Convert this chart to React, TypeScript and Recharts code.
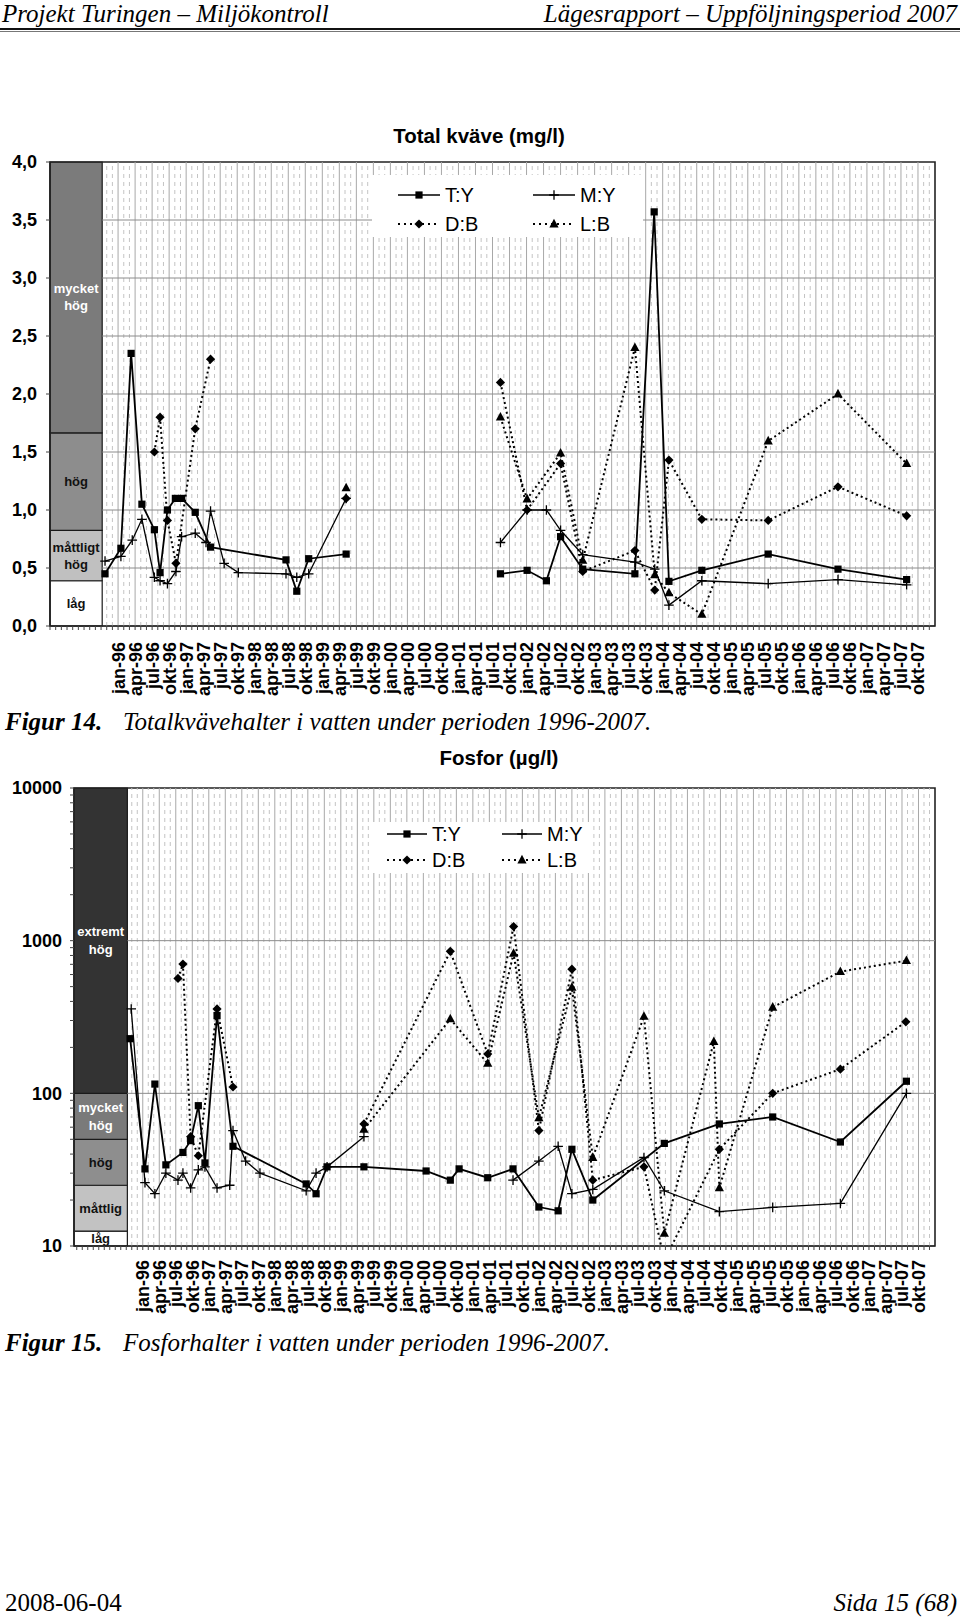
import React from 'react';
import { ComposedChart, Line, XAxis, YAxis, ReferenceArea, ReferenceLine, Legend } from 'recharts';

const SANS = '"Liberation Sans", Arial, sans-serif';
const SERIF = '"Liberation Serif", "Times New Roman", serif';

// x values are months counted from jan-96 (0 = jan-96, 141 = okt-07)
const MONTH_NAMES = ['jan', 'apr', 'jul', 'okt'];
const YEARS = ['96', '97', '98', '99', '00', '01', '02', '03', '04', '05', '06', '07'];
const X_LABELS = YEARS.flatMap((y) => MONTH_NAMES.map((mn) => `${mn}-${y}`));

// ---- Total kväve (mg/l) ----
const N_TY_M = [-2.3, 0.5, 2.3, 4.2, 6.4, 7.4, 8.7, 10.1, 11.2, 13.6, 16.3, 29.6, 31.5, 33.6, 40.2, 50, 67.4, 72.1, 75.5, 78.0, 81.9, 91.1, 94.5, 97.1, 102.9, 114.6, 126.9, 139.0];
const N_TY_V = [0.45, 0.67, 2.35, 1.05, 0.83, 0.46, 1.0, 1.1, 1.1, 0.98, 0.68, 0.57, 0.3, 0.58, 0.62, null, 0.45, 0.48, 0.39, 0.77, 0.49, 0.45, 3.57, 0.385, 0.48, 0.62, 0.49, 0.4];

const N_MY_M = [-2.3, 0.5, 2.5, 4.2, 6.4, 7.4, 8.7, 10.2, 11.2, 13.6, 15.5, 16.3, 18.7, 21.2, 29.6, 31.5, 33.6, 40.2, 50, 67.4, 72.1, 75.5, 78.0, 81.9, 91.1, 94.6, 97.1, 102.9, 114.6, 126.9, 139.0];
const N_MY_V = [0.56, 0.6, 0.74, 0.92, 0.42, 0.39, 0.365, 0.47, 0.77, 0.8, 0.72, 0.99, 0.54, 0.46, 0.45, 0.42, 0.45, 1.1, null, 0.72, 1.0, 1.0, 0.825, 0.615, 0.55, 0.49, 0.18, 0.39, 0.365, 0.4, 0.355];

const N_DB_M = [6.4, 7.4, 8.7, 10.2, 13.6, 16.3, 28, 40.2, 50, 67.4, 72.1, 78.0, 81.9, 91.1, 94.6, 97.1, 102.9, 114.6, 126.9, 139.0];
const N_DB_V = [1.5, 1.8, 0.91, 0.54, 1.7, 2.3, null, 1.1, null, 2.1, 1.0, 1.4, 0.47, 0.65, 0.31, 1.43, 0.92, 0.91, 1.2, 0.95];

const N_LB_M = [40.2, 50, 67.4, 72.1, 78.0, 81.9, 91.1, 94.6, 97.1, 102.9, 114.6, 126.9, 139.0];
const N_LB_V = [1.19, null, 1.8, 1.095, 1.49, 0.565, 2.4, 0.44, 0.285, 0.1, 1.595, 2.0, 1.4];

const N_Y_TICKS = [0, 0.5, 1, 1.5, 2, 2.5, 3, 3.5, 4];
const N_CLASS_LIMITS = [0, 0.39, 0.825, 1.665, 4];
const N_CLASS_NAMES = ['låg', 'måttligt hög', 'hög', 'mycket hög'];

// ---- Fosfor (µg/l) ----
const P_TY_M = [-2.3, 0.4, 2.2, 4.2, 7.3, 8.7, 10.1, 11.3, 13.5, 16.4, 29.7, 31.5, 33.5, 40.2, 51.5, 55.9, 57.5, 62.7, 67.3, 72.0, 75.5, 78.0, 81.8, 94.8, 104.8, 114.5, 126.8, 138.8];
const P_TY_V = [228, 32, 115, 34, 41, 49, 83, 35, 323, 45, 25.5, 22, 33, 33, 31, 27, 32, 28, 32, 18, 17, 43, 20, 47, 63, 70, 48, 120];

const P_MY_M = [-2.1, 0.4, 2.2, 4.2, 6.4, 7.3, 8.7, 10.1, 11.3, 13.5, 15.8, 16.4, 18.7, 21.3, 29.7, 31.5, 33.5, 40.2, 50, 67.3, 72.0, 75.5, 78.0, 81.8, 91.1, 94.8, 104.8, 114.5, 126.8, 138.8];
const P_MY_V = [357, 26, 22, 30, 27, 30, 24, 31.5, 33, 24, 25, 57, 36, 30, 23, 30, 33, 52, null, 27, 36, 45, 22, 23.5, 38, 23, 16.8, 17.9, 19, 100];

const P_DB_M = [6.4, 7.3, 8.7, 10.1, 13.5, 16.4, 28, 40.2, 55.9, 62.7, 67.4, 72.0, 78.0, 81.8, 91.1, 94.8, 104.8, 114.5, 126.8, 138.7];
const P_DB_V = [566, 703, 52, 39, 357, 110, null, 63, 851, 181, 1236, 57, 651, 27, 33, 8, 43, 100, 144, 294];

const P_LB_M = [40.2, 55.9, 62.7, 67.4, 72.0, 78.0, 81.8, 91.1, 94.8, 103.8, 104.8, 114.5, 126.8, 138.8];
const P_LB_V = [58, 307, 157, 826, 69, 494, 38, 319, 12.1, 218, 24, 366, 627, 740];

const P_Y_TICKS = [10, 20, 30, 40, 50, 60, 70, 80, 90, 100, 200, 300, 400, 500, 600, 700, 800, 900, 1000, 2000, 3000, 4000, 5000, 6000, 7000, 8000, 9000, 10000];
const P_CLASS_LIMITS = [10, 12.5, 25, 50, 100, 10000];
const P_CLASS_NAMES = ['låg', 'måttlig', 'hög', 'mycket hög', 'extremt hög'];

const SERIES_NAMES = ['T:Y', 'M:Y', 'D:B', 'L:B'];

type Kind = 'square' | 'plus' | 'diamond' | 'triangle';
type Row = { m: number; v: number | null };

const toRows = (ms: number[], vs: (number | null)[]): Row[] => ms.map((m, i) => ({ m, v: vs[i] }));

const STYLES: { kind: Kind; dotted: boolean; width: number }[] = [
  { kind: 'square', dotted: false, width: 1.8 },
  { kind: 'plus', dotted: false, width: 1.3 },
  { kind: 'diamond', dotted: true, width: 2 },
  { kind: 'triangle', dotted: true, width: 2 },
];

const Marker = ({ kind, cx, cy }: { kind: Kind; cx: number; cy: number }) => {
  if (kind === 'square') return <rect x={cx - 3.6} y={cy - 3.6} width={7.2} height={7.2} fill="#000" />;
  if (kind === 'diamond')
    return <path d={`M${cx},${cy - 4.6}L${cx + 4.6},${cy}L${cx},${cy + 4.6}L${cx - 4.6},${cy}Z`} fill="#000" />;
  if (kind === 'triangle')
    return <path d={`M${cx},${cy - 5.2}L${cx + 4.6},${cy + 3.4}L${cx - 4.6},${cy + 3.4}Z`} fill="#000" />;
  return <path d={`M${cx - 4.8},${cy}H${cx + 4.8}M${cx},${cy - 4.8}V${cy + 4.8}`} stroke="#000" strokeWidth={1.3} fill="none" />;
};

const monthLabel = (m: number) => {
  if (m < 0 || m % 3 !== 0) return '';
  return X_LABELS[m / 3] || '';
};

const MonthTick = (props: any) => {
  const { x, y, payload } = props;
  const label = monthLabel(payload.value);
  if (!label) return <g />;
  return (
    <text x={x} y={y} transform={`rotate(-90 ${x} ${y})`} textAnchor="end" dy="0.36em"
      fontFamily={SANS} fontSize={18} fontWeight={700} fill="#000">
      {label}
    </text>
  );
};

const bandLabel = (name: string, color: string, lh: number) => (props: any) => {
  const vb = props.viewBox;
  const cx = vb.x + vb.width / 2;
  const cy = vb.y + vb.height / 2;
  const lines = name.split(' ');
  return (
    <text x={cx} y={cy} textAnchor="middle" fill={color} fontFamily={SANS} fontSize={13} fontWeight={700}>
      {lines.map((l, i) => (
        <tspan key={i} x={cx} y={cy + (i - (lines.length - 1) / 2) * lh} dy="0.35em">{l}</tspan>
      ))}
    </text>
  );
};

type LegendGeom = { left: number; top: number; w: number; h: number; rows: number[]; cols: number[]; lineW: number };

const legendContent = (g: LegendGeom) => () => (
  <svg width={g.w} height={g.h} style={{ display: 'block' }}>
    {SERIES_NAMES.map((name, i) => {
      const st = STYLES[i];
      const x0 = g.cols[i % 2];
      const y0 = g.rows[Math.floor(i / 2)];
      return (
        <g key={name}>
          <line x1={x0} x2={x0 + g.lineW} y1={y0} y2={y0} stroke="#000" strokeWidth={st.dotted ? 2 : 1.5}
            strokeDasharray={st.dotted ? '2 4' : undefined} />
          <Marker kind={st.kind} cx={x0 + g.lineW / 2} cy={y0} />
          <text x={x0 + g.lineW + 5} y={y0} dy="0.36em" fontFamily={SANS} fontSize={20} fill="#000">{name}</text>
        </g>
      );
    })}
  </svg>
);

type PanelProps = {
  top: number;
  height: number;
  margin: { top: number; right: number; bottom: number; left: number };
  yAxisW: number;
  xAxisH: number;
  xDomain: [number, number];
  bandEnd: number;
  log: boolean;
  yDomain: [number, number];
  yTicks: number[];
  yFmt: (v: number) => string;
  yTickMargin: number;
  xTickMargin: number;
  gridYs: number[];
  classLimits: number[];
  classNames: string[];
  classFills: string[];
  classText: string[];
  classLh: number;
  series: Row[][];
  legend: LegendGeom;
};

const Panel = (p: PanelProps) => {
  const monthTicks: number[] = [];
  for (let m = Math.ceil(p.xDomain[0]); m < p.xDomain[1]; m++) monthTicks.push(m);
  const gridMonths = monthTicks.filter((m) => m > p.bandEnd);
  return (
    <div style={{ position: 'absolute', left: 0, top: p.top }}>
      <ComposedChart width={960} height={p.height} margin={p.margin}>
        <XAxis type="number" dataKey="m" domain={p.xDomain} allowDataOverflow ticks={monthTicks} interval={0}
          height={p.xAxisH} tick={<MonthTick />} tickSize={4} tickMargin={p.xTickMargin}
          axisLine={{ stroke: '#222', strokeWidth: 1.2 }} tickLine={{ stroke: '#444' }} />
        <YAxis type="number" dataKey="v" scale={p.log ? 'log' : 'linear'} domain={p.yDomain} allowDataOverflow
          ticks={p.yTicks} interval={0} width={p.yAxisW} tickFormatter={p.yFmt} tickSize={4}
          tickMargin={p.yTickMargin} axisLine={{ stroke: '#222' }} tickLine={{ stroke: '#444' }}
          tick={{ fill: '#000', fontSize: 18, fontWeight: 700, fontFamily: SANS }} />
        {gridMonths.map((m) => (
          <ReferenceLine key={`v${m}`} x={m} stroke={m % 3 === 0 ? '#a8a8a8' : '#c4c4c4'}
            strokeWidth={1} strokeDasharray={m % 3 === 0 ? undefined : '4 4'} />
        ))}
        {p.gridYs.map((y) => (
          <ReferenceLine key={`h${y}`} segment={[{ x: p.bandEnd, y }, { x: p.xDomain[1], y }]} stroke="#8c8c8c" strokeWidth={1} />
        ))}
        {p.classNames.map((name, i) => (
          <ReferenceArea key={name} x1={p.xDomain[0]} x2={p.bandEnd} y1={p.classLimits[i]} y2={p.classLimits[i + 1]}
            fill={p.classFills[i]} fillOpacity={1} stroke="#1a1a1a" strokeWidth={1.2}
            label={bandLabel(name, p.classText[i], p.classLh)} />
        ))}
        {p.series.map((rows, i) => {
          const st = STYLES[i];
          return (
            <Line key={SERIES_NAMES[i]} name={SERIES_NAMES[i]} data={rows} dataKey="v" type="linear"
              stroke="#000" strokeWidth={st.width} strokeDasharray={st.dotted ? '2 3' : undefined}
              isAnimationActive={false} activeDot={false}
              dot={(d: any) => (d.cy == null || d.value == null
                ? <g key={`d${i}-${d.index}`} />
                : <Marker key={`d${i}-${d.index}`} kind={st.kind} cx={d.cx} cy={d.cy} />)} />
          );
        })}
        <ReferenceArea x1={p.xDomain[0]} x2={p.xDomain[1]} y1={p.yDomain[0]} y2={p.yDomain[1]}
          fill="none" fillOpacity={0} stroke="#222" strokeWidth={1.6} />
        <Legend layout="horizontal" verticalAlign="middle" align="center" content={legendContent(p.legend)}
          wrapperStyle={{ position: 'absolute', left: p.legend.left, top: p.legend.top, width: p.legend.w,
            height: p.legend.h, background: '#fff', margin: 0, padding: 0 }} />
      </ComposedChart>
    </div>
  );
};

const txt = (extra: React.CSSProperties): React.CSSProperties => ({ position: 'absolute', whiteSpace: 'nowrap', ...extra });

export default function App() {
  const nSeries = [toRows(N_TY_M, N_TY_V), toRows(N_MY_M, N_MY_V), toRows(N_DB_M, N_DB_V), toRows(N_LB_M, N_LB_V)];
  const pSeries = [toRows(P_TY_M, P_TY_V), toRows(P_MY_M, P_MY_V), toRows(P_DB_M, P_DB_V), toRows(P_LB_M, P_LB_V)];
  return (
    <div style={{ position: 'absolute', left: 0, top: 0, width: 960, height: 1617, background: '#fff' }}>
      {/* page header */}
      <div style={txt({ left: 2, top: 1, fontFamily: SERIF, fontStyle: 'italic', fontSize: 25, lineHeight: '26px' })}>
        Projekt Turingen – Miljökontroll
      </div>
      <div style={txt({ right: 3, top: 1, fontFamily: SERIF, fontStyle: 'italic', fontSize: 25, lineHeight: '26px' })}>
        Lägesrapport – Uppföljningsperiod 2007
      </div>
      <div style={{ position: 'absolute', left: 0, top: 28, width: 960, height: 2, background: '#111' }} />
      <div style={{ position: 'absolute', left: 0, top: 31, width: 960, height: 1, background: '#777' }} />

      {/* Figur 14 */}
      <div style={txt({ left: 379, width: 200, textAlign: 'center', top: 124, fontFamily: SANS, fontWeight: 700, fontSize: 20.5, lineHeight: '24px' })}>
        Total kväve (mg/l)
      </div>
      <Panel
        top={150} height={560} margin={{ top: 12, right: 25, bottom: 14, left: 0 }} yAxisW={50} xAxisH={70}
        xDomain={[-12, 144]} bandEnd={-2.8} log={false} yDomain={[0, 4]} yTicks={N_Y_TICKS}
        yFmt={(v) => v.toFixed(1).replace('.', ',')} yTickMargin={9} xTickMargin={12}
        gridYs={[0.5, 1, 1.5, 2, 2.5, 3, 3.5]}
        classLimits={N_CLASS_LIMITS} classNames={N_CLASS_NAMES}
        classFills={['#ffffff', '#c0c0c0', '#8d8d8d', '#7b7b7b']} classText={['#111', '#111', '#111', '#fff']} classLh={17}
        series={nSeries}
        legend={{ left: 372, top: 25, w: 271, h: 62, rows: [20, 49], cols: [26, 161], lineW: 42 }}
      />
      <div style={txt({ left: 5, top: 708, fontFamily: SERIF, fontStyle: 'italic', fontWeight: 700, fontSize: 25, lineHeight: '28px' })}>
        Figur 14.
      </div>
      <div style={txt({ left: 123, top: 708, fontFamily: SERIF, fontStyle: 'italic', fontSize: 25, lineHeight: '28px' })}>
        Totalkvävehalter i vatten under perioden 1996-2007.
      </div>

      {/* Figur 15 */}
      <div style={txt({ left: 399, width: 200, textAlign: 'center', top: 746, fontFamily: SANS, fontWeight: 700, fontSize: 20.5, lineHeight: '24px' })}>
        Fosfor (µg/l)
      </div>
      <Panel
        top={770} height={570} margin={{ top: 18, right: 25, bottom: 14, left: 0 }} yAxisW={74} xAxisH={80}
        xDomain={[-12.5, 144]} bandEnd={-2.8} log={true} yDomain={[10, 10000]} yTicks={P_Y_TICKS}
        yFmt={(v) => ([10, 100, 1000, 10000].includes(v) ? String(v) : '')} yTickMargin={8} xTickMargin={10}
        gridYs={[100, 1000]}
        classLimits={P_CLASS_LIMITS} classNames={P_CLASS_NAMES}
        classFills={['#ffffff', '#c2c2c2', '#8e8e8e', '#7a7a7a', '#333333']}
        classText={['#111', '#111', '#111', '#fff', '#fff']} classLh={18}
        series={pSeries}
        legend={{ left: 372, top: 52, w: 221, h: 51, rows: [12, 38], cols: [15, 130], lineW: 40 }}
      />
      <div style={txt({ left: 5, top: 1329, fontFamily: SERIF, fontStyle: 'italic', fontWeight: 700, fontSize: 25, lineHeight: '28px' })}>
        Figur 15.
      </div>
      <div style={txt({ left: 123, top: 1329, fontFamily: SERIF, fontStyle: 'italic', fontSize: 25, lineHeight: '28px' })}>
        Fosforhalter i vatten under perioden 1996-2007.
      </div>

      {/* page footer */}
      <div style={txt({ left: 5, top: 1589, fontFamily: SERIF, fontSize: 25, lineHeight: '28px' })}>2008-06-04</div>
      <div style={txt({ right: 3, top: 1589, fontFamily: SERIF, fontStyle: 'italic', fontSize: 25, lineHeight: '28px' })}>
        Sida 15 (68)
      </div>
    </div>
  );
}
